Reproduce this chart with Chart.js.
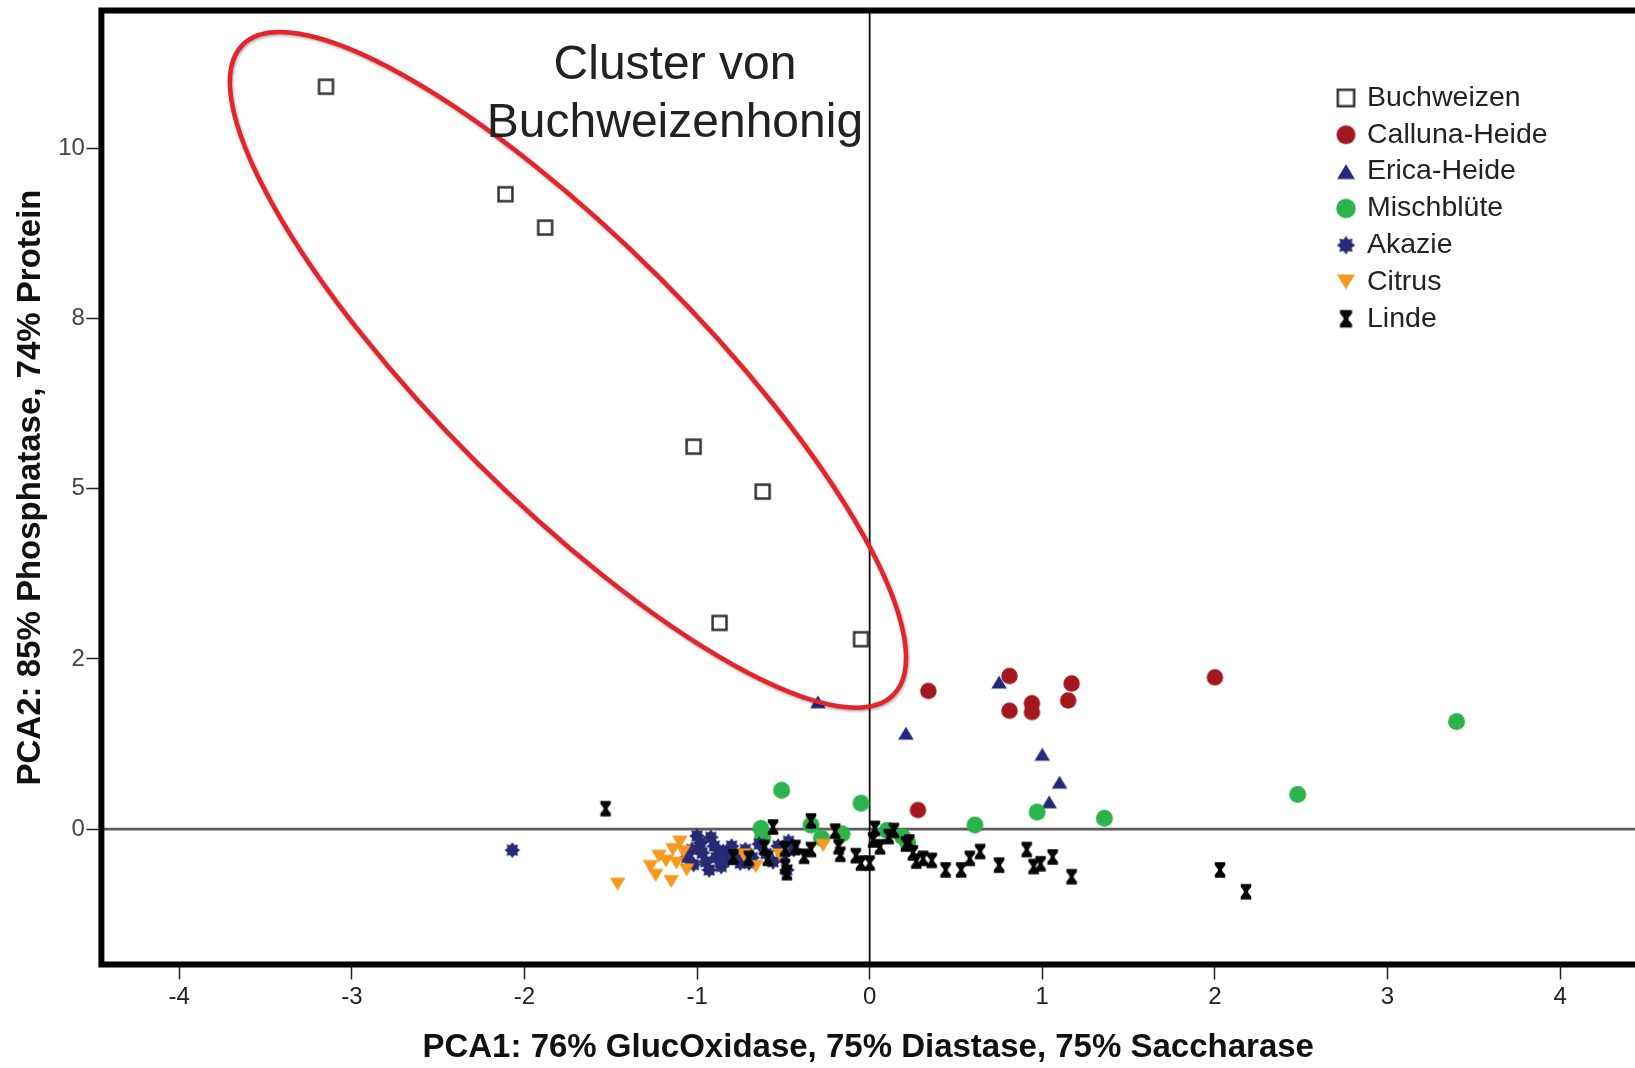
<!DOCTYPE html>
<html>
<head>
<meta charset="utf-8">
<script src="https://cdn.jsdelivr.net/npm/chart.js@4.4.1/dist/chart.umd.min.js"></script>
<style>
  html, body { margin:0; padding:0; background:#fff; overflow:hidden; }
  #wrap { width:1635px; height:1068px; }
  canvas { display:block; }
</style>
</head>
<body>
<div id="wrap"><canvas id="pca" width="1635" height="1068"></canvas></div>
<script>
// ── Data ─────────────────────────────────────
const seriesNames = ['Buchweizen', 'Calluna-Heide', 'Erica-Heide', 'Mischblüte', 'Akazie', 'Citrus', 'Linde'];

const buchweizen = [[-3.15,10.91],[-2.11,9.33],[-1.88,8.84],[-1.02,5.62],[-0.62,4.96],[-0.87,3.03],[-0.05,2.79]];
const calluna = [[0.34,2.03],[0.81,2.25],[0.81,1.74],[0.94,1.85],[0.94,1.72],[1.17,2.14],[1.15,1.89],[2.00,2.23],[0.28,0.28]];
const erica = [[-0.30,1.87],[0.75,2.16],[0.21,1.41],[1.00,1.10],[1.10,0.69],[1.04,0.40]];
const mischbluete = [[3.40,1.58],[2.48,0.51],[1.36,0.16],[0.97,0.25],[0.61,0.06],[-0.05,0.38],[-0.51,0.57],
  [-0.63,0.01],[-0.62,-0.12],[-0.34,0.06],[-0.28,-0.13],[-0.16,-0.07],[0.10,-0.02],[0.19,-0.11],[0.22,-0.20]];
const akazie = [[-2.07,-0.31],[-1.00,-0.10],[-0.98,-0.20],[-1.03,-0.30],[-1.06,-0.42],[-1.02,-0.52],[-0.97,-0.35],
  [-0.95,-0.48],[-0.93,-0.60],[-0.90,-0.25],[-0.89,-0.42],[-0.86,-0.55],[-0.85,-0.33],[-0.82,-0.45],[-0.80,-0.25],
  [-0.77,-0.38],[-0.75,-0.50],[-0.72,-0.30],[-0.68,-0.42],[-0.64,-0.22],[-0.60,-0.36],[-0.56,-0.48],[-0.53,-0.25],
  [-0.50,-0.38],[-0.47,-0.18],[-0.48,-0.60],[-0.44,-0.30],[-0.92,-0.12],[-0.70,-0.50]];
const citrus = [[-1.46,-0.81],[-1.27,-0.55],[-1.24,-0.68],[-1.15,-0.77],[-1.18,-0.47],[-1.22,-0.40],[-1.14,-0.30],
  [-1.10,-0.19],[-1.08,-0.33],[-1.06,-0.60],[-1.12,-0.50],[-0.73,-0.38],[-0.66,-0.55],[-0.52,-0.38],[-0.27,-0.24]];
const linde = [[-1.53,0.30],[-0.79,-0.41],[-0.70,-0.43],[-0.61,-0.27],[-0.59,-0.43],[-0.56,0.03],[-0.49,-0.29],
  [-0.49,-0.55],[-0.48,-0.64],[-0.43,-0.27],[-0.38,-0.40],[-0.34,-0.30],[-0.34,0.12],[-0.20,-0.03],[-0.18,-0.26],
  [-0.17,-0.37],[-0.08,-0.39],[-0.05,-0.50],[0.00,-0.50],[0.03,0.01],[0.02,-0.16],[0.06,-0.26],[0.11,-0.11],
  [0.14,-0.02],[0.21,-0.22],[0.23,-0.19],[0.25,-0.35],[0.27,-0.47],[0.31,-0.43],[0.36,-0.46],[0.44,-0.60],
  [0.53,-0.60],[0.58,-0.43],[0.64,-0.33],[0.75,-0.53],[0.91,-0.30],[0.95,-0.55],[0.99,-0.51],[1.06,-0.41],
  [1.17,-0.70],[2.03,-0.60],[2.18,-0.92]];

const xTickValues = [-4, -3, -2, -1, 0, 1, 2, 3, 4];
const yTickValues = [0, 2.5, 5, 7.5, 10];
const yTickLabels = ['0', '2', '5', '8', '10'];

const xTitle = 'PCA1: 76% GlucOxidase, 75% Diastase, 75% Saccharase';
const yTitle = 'PCA2: 85% Phosphatase, 74% Protein';
const clusterText = ['Cluster von', 'Buchweizenhonig'];

// ── Styles ───────────────────────────────────
const font = "'Liberation Sans', Arial, Helvetica, sans-serif";
const markerStyles = [
  {kind:'square',    color:'#333333', size:16.5},
  {kind:'circle',    color:'#a3181e', size:16.5},
  {kind:'triUp',     color:'#222a7c', size:15.5},
  {kind:'circle',    color:'#2db34b', size:17},
  {kind:'star',      color:'#272a74', size:16},
  {kind:'triDown',   color:'#f59920', size:15.5},
  {kind:'hourglass', color:'#050505', size:17.5}
];
// annotation: ellipse given by its major-axis ends (data units) + minor half-axis (px)
const clusterEllipse = {from:[-3.633, 11.526], to:[0.137, 1.972], minor:130};
const clusterLabel = {x:-1.128, y:[11.025, 10.167]};
const legendBox = {x:1346, y:98, row:36.8, gap:21};

function makeMarker(kind, color, s) {
  const n = Math.ceil(s + 4), c = document.createElement('canvas');
  c.width = n; c.height = n;
  const g = c.getContext('2d'), m = n / 2, r = s / 2;
  g.fillStyle = color; g.strokeStyle = color;
  if (kind === 'square') {
    const h = r - 1.3;
    g.fillStyle = '#fff'; g.fillRect(m - h, m - h, 2 * h, 2 * h);
    g.lineWidth = 2.5; g.strokeRect(m - h, m - h, 2 * h, 2 * h);
    return c;
  }
  g.beginPath();
  if (kind === 'circle') {
    g.arc(m, m, r, 0, Math.PI * 2);
  } else if (kind === 'triUp' || kind === 'triDown') {
    const d = kind === 'triUp' ? 1 : -1, hh = r * 0.85;
    g.moveTo(m, m - d * hh); g.lineTo(m + r, m + d * hh); g.lineTo(m - r, m + d * hh);
  } else if (kind === 'star') {
    for (let i = 0; i < 16; i++) {
      const a = i * Math.PI / 8 - Math.PI / 2, rr = i % 2 ? r * 0.68 : r;
      g.lineTo(m + rr * Math.cos(a), m + rr * Math.sin(a));
    }
  } else if (kind === 'hourglass') {
    const w = r * 0.6, h = r * 0.88, bar = h * 0.38, wa = w * 0.42, wy = h * 0.12;
    const pts = [[-w,-h],[w,-h],[w,-h+bar],[wa,-wy],[wa,wy],[w,h-bar],[w,h],[-w,h],[-w,h-bar],[-wa,wy],[-wa,-wy],[-w,-h+bar]];
    pts.forEach(p => g.lineTo(m + p[0], m + p[1]));
  }
  g.closePath(); g.fill();
  return c;
}

const plotMarkers = markerStyles.map(st => makeMarker(st.kind, st.color, st.size));
const legendMarkers = markerStyles.map(st => makeMarker(st.kind, st.color, st.size * 1.15));

const seriesData = [buchweizen, calluna, erica, mischbluete, akazie, citrus, linde];
const datasets = seriesData.map((pts, i) => ({
  label: seriesNames[i],
  data: pts.map(p => ({x: p[0], y: p[1]})),
  pointStyle: plotMarkers[i],
  pointRadius: 8,
  order: seriesData.length - i
}));

// ── Decorations: zero lines, frame, ellipse, text, legend ─────
const pcaDecor = {
  id: 'pcaDecor',
  beforeDatasetsDraw(chart) {
    const {ctx, chartArea: a, scales: {x, y}} = chart;
    ctx.save();
    const y0 = y.getPixelForValue(0), x0 = x.getPixelForValue(0);
    ctx.strokeStyle = '#5a5a5a'; ctx.lineWidth = 2.6;
    ctx.beginPath(); ctx.moveTo(a.left, y0); ctx.lineTo(a.right, y0); ctx.stroke();
    ctx.strokeStyle = '#111'; ctx.lineWidth = 1.8;
    ctx.beginPath(); ctx.moveTo(x0, a.top); ctx.lineTo(x0, a.bottom); ctx.stroke();
    ctx.restore();
  },
  afterDatasetsDraw(chart) {
    const {ctx, chartArea: a, scales: {x, y}} = chart;
    ctx.save();

    // ellipse round the buckwheat cluster
    const p1 = {x: x.getPixelForValue(clusterEllipse.from[0]), y: y.getPixelForValue(clusterEllipse.from[1])};
    const p2 = {x: x.getPixelForValue(clusterEllipse.to[0]), y: y.getPixelForValue(clusterEllipse.to[1])};
    const rot = Math.atan2(p2.y - p1.y, p2.x - p1.x);
    ctx.save();
    ctx.shadowColor = 'rgba(0,0,0,0.35)'; ctx.shadowBlur = 3; ctx.shadowOffsetX = 1; ctx.shadowOffsetY = 1.5;
    ctx.strokeStyle = '#e5232b'; ctx.lineWidth = 4.5;
    ctx.beginPath();
    ctx.ellipse((p1.x + p2.x) / 2, (p1.y + p2.y) / 2, Math.hypot(p2.x - p1.x, p2.y - p1.y) / 2, clusterEllipse.minor, rot, 0, Math.PI * 2);
    ctx.stroke();
    ctx.restore();

    // cluster label
    ctx.fillStyle = '#222'; ctx.font = '48px ' + font;
    ctx.textAlign = 'center'; ctx.textBaseline = 'alphabetic';
    clusterText.forEach((t, i) => ctx.fillText(t, x.getPixelForValue(clusterLabel.x), y.getPixelForValue(clusterLabel.y[i])));

    // frame (right side is cut off in the original)
    ctx.strokeStyle = '#000'; ctx.lineWidth = 6; ctx.lineJoin = 'miter';
    ctx.beginPath();
    ctx.moveTo(a.right + 10, a.top); ctx.lineTo(a.left, a.top);
    ctx.lineTo(a.left, a.bottom); ctx.lineTo(a.right + 10, a.bottom);
    ctx.stroke();

    // legend
    ctx.font = '28.5px ' + font; ctx.textAlign = 'left'; ctx.textBaseline = 'middle'; ctx.fillStyle = '#222';
    chart.data.datasets.forEach((ds, i) => {
      const yy = legendBox.y + i * legendBox.row, img = legendMarkers[i];
      ctx.drawImage(img, legendBox.x - img.width / 2, yy - img.height / 2);
      ctx.fillText(ds.label, legendBox.x + legendBox.gap, yy);
    });
    ctx.restore();
  }
};

// ── Chart ────────────────────────────────────
new Chart(document.getElementById('pca'), {
  type: 'scatter',
  data: {datasets},
  options: {
    responsive: false, animation: false, events: [],
    layout: {autoPadding: false, padding: {top: 10.5, right: 0, bottom: 0, left: 0}},
    plugins: {legend: {display: false}, tooltip: {enabled: false}},
    scales: {
      x: {
        type: 'linear', min: -4.451, max: 4.434,
        afterBuildTicks: s => { s.ticks = xTickValues.map(v => ({value: v})); },
        afterFit: s => { s.height = 103.5; s.paddingLeft = 0; s.paddingRight = 0; },
        grid: {drawOnChartArea: false, tickLength: 15, tickColor: '#222', tickWidth: 1.5},
        border: {display: false},
        ticks: {color: '#222', font: {family: font, size: 24}, padding: 3, maxRotation: 0, autoSkip: false},
        title: {display: true, text: xTitle, color: '#111', font: {family: font, size: 33, weight: 'bold'}, padding: {top: 0, bottom: 0}}
      },
      y: {
        type: 'linear', min: -1.99, max: 12.03,
        afterBuildTicks: s => { s.ticks = yTickValues.map(v => ({value: v})); },
        afterFit: s => { s.width = 101.4; s.paddingTop = 0; s.paddingBottom = 0; },
        grid: {drawOnChartArea: false, tickLength: 15, tickColor: '#222', tickWidth: 1.5},
        border: {display: false},
        ticks: {color: '#444', font: {family: font, size: 24}, padding: 1.5, autoSkip: false,
          callback: (v) => yTickLabels[yTickValues.indexOf(v)]},
        title: {display: true, text: yTitle, color: '#111', font: {family: font, size: 33, weight: 'bold'}, padding: {top: 11, bottom: 0}}
      }
    }
  },
  plugins: [pcaDecor]
});
</script>
</body>
</html>
